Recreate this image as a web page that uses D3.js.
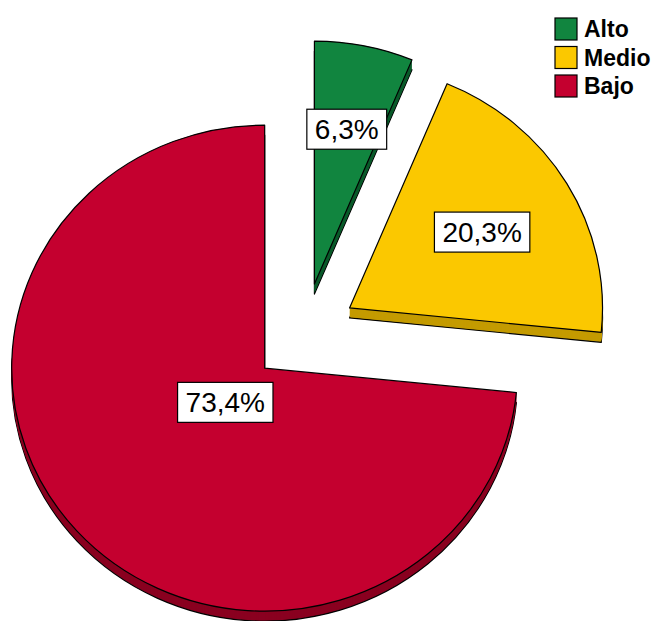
<!DOCTYPE html>
<html>
<head>
<meta charset="utf-8">
<script src="https://cdn.jsdelivr.net/npm/d3@7"></script>
<style>
  html, body { margin: 0; padding: 0; background: #fff; }
</style>
</head>
<body>
<div id="chart"></div>
<script>
(function() {

  // data
  let categories = ["Alto", "Medio", "Bajo"];
  let percents   = [6.3, 20.3, 73.4];
  let labels     = ["6,3%", "20,3%", "73,4%"];

  let topColors  = ["#11853f", "#fbc800", "#c4002f"];
  let sideColors = ["#0a5a2a", "#c49b00", "#8a0020"];

  let width  = 657,
      height = 621;

  // pie geometry (ellipse, slight tilt)
  let cx = 304, cy = 334,
      rx = 253, ry = 243,
      explode = 53,
      depth = 10;
  let k = ry / rx;

  // how far out the label sits along the slice middle (fraction of radius)
  let labelR = [0.65, 0.61, 0.21];

  let svg = d3.select("#chart")
    .append("svg")
    .attr("width", width)
    .attr("height", height);

  let pie = d3.pie()
    .sort(null)
    .value((d) => d)
    .startAngle(0)
    .endAngle(2 * Math.PI);

  let arc = d3.arc()
    .innerRadius(0)
    .outerRadius(rx);

  let arcs = pie(percents);

  arcs.forEach((a, i) => {
    let mid = (a.startAngle + a.endAngle) / 2;
    let ox = explode * Math.sin(mid),
        oy = -explode * Math.cos(mid);

    let slice = svg.append("g").attr("class", "slice");

    // extruded side, drawn as stacked copies from the bottom up
    for (let z = depth; z >= 1; z--) {
      slice.append("g")
        .attr("transform", `translate(${cx},${cy + z}) scale(1,${k})`)
        .append("path")
        .attr("transform", `translate(${ox},${oy})`)
        .attr("d", arc(a))
        .attr("fill", sideColors[i])
        .attr("stroke", z === depth ? "#000" : "none")
        .attr("stroke-width", 1.2)
        .attr("vector-effect", "non-scaling-stroke")
        .attr("stroke-linejoin", "round");
    }

    // top face
    slice.append("g")
      .attr("transform", `translate(${cx},${cy}) scale(1,${k})`)
      .append("path")
      .attr("transform", `translate(${ox},${oy})`)
      .attr("d", arc(a))
      .attr("fill", topColors[i])
      .attr("stroke", "#000")
      .attr("stroke-width", 1.2)
      .attr("vector-effect", "non-scaling-stroke")
      .attr("stroke-linejoin", "round");
  });

  // value labels in white boxes
  arcs.forEach((a, i) => {
    let mid = (a.startAngle + a.endAngle) / 2;
    let lx = cx + (explode + labelR[i] * rx) * Math.sin(mid);
    let ly = cy - (explode * k + labelR[i] * ry) * Math.cos(mid);

    let g = svg.append("g").attr("transform", `translate(${lx},${ly})`);
    let t = g.append("text")
      .attr("text-anchor", "middle")
      .attr("dy", "0.36em")
      .style("font-family", "'Liberation Sans', Arial, sans-serif")
      .style("font-size", "28px")
      .attr("fill", "#000")
      .text(labels[i]);
    let bb = t.node().getBBox();
    g.insert("rect", "text")
      .attr("x", -bb.width / 2 - 8)
      .attr("y", -20)
      .attr("width", bb.width + 16)
      .attr("height", 40)
      .attr("fill", "#fff")
      .attr("stroke", "#000")
      .attr("stroke-width", 1.2);
  });

  // legend
  let legend = svg.append("g").attr("transform", "translate(555,18)");
  let items = legend.selectAll(".item")
    .data(categories)
    .enter().append("g")
    .attr("class", "item")
    .attr("transform", (d, i) => `translate(0,${i * 28.5})`);

  items.append("rect")
    .attr("width", 22)
    .attr("height", 22)
    .attr("fill", (d, i) => topColors[i])
    .attr("stroke", "#000")
    .attr("stroke-width", 1.2);

  items.append("text")
    .attr("x", 29)
    .attr("y", 19)
    .style("font-family", "'Liberation Sans', Arial, sans-serif")
    .style("font-size", "23px")
    .style("font-weight", "bold")
    .attr("fill", "#000")
    .text((d) => d);

})();
</script>
</body>
</html>
